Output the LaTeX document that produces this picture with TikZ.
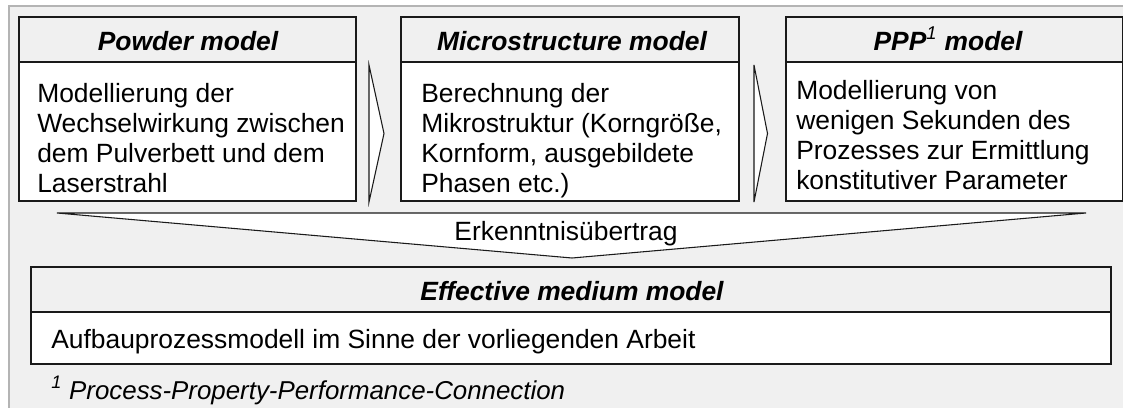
\documentclass[tikz,border=0pt]{standalone}
\usepackage{fontspec}
\setmainfont{Liberation Sans}
\definecolor{panelgray}{HTML}{F0F0F0}
\definecolor{framegray}{HTML}{B4B4B4}
\definecolor{inkline}{HTML}{1A1A1A}
\newcommand{\diagfont}{\fontsize{19.8pt}{22.5pt}\selectfont}
\begin{document}
\begin{tikzpicture}[
  x=0.75pt, y=-0.75pt,
  panel/.style={fill=panelgray, draw=framegray, line width=1.5pt},
  headbox/.style={fill=panelgray, draw=inkline, line width=1.1pt},
  bodybox/.style={fill=white, draw=inkline, line width=1.1pt},
  flowtip/.style={fill=white, draw=inkline, line width=0.8pt, line join=miter},
  txt/.style={inner sep=0pt, font=\diagfont},
  headtxt/.style={txt, anchor=base, font=\diagfont\bfseries\itshape},
  bodytxt/.style={txt, anchor=base west},
]
\useasboundingbox (0,0) rectangle (1123,407);

% background panel
\path[panel] (9,6) rectangle (1160,440);

% three model boxes: header band and body
\path[headbox] (19,17) rectangle (356,62);
\path[bodybox] (19,62) rectangle (356,201);
\path[headbox] (401,17) rectangle (739,62);
\path[bodybox] (401,62) rectangle (739,201);
\path[headbox] (786,17) rectangle (1122.5,62);
\path[bodybox] (786,62) rectangle (1122.5,201);

% flow arrows between the boxes
\path[flowtip] (369,65) -- (384,133.5) -- (369,202) -- cycle;
\path[flowtip] (754,65) -- (767.5,133.5) -- (754,202) -- cycle;

% knowledge transfer arrow
\path[flowtip] (57,213) -- (1086,213) -- (572,258) -- cycle;
\node[txt, anchor=base] (transfer) at (566,240) {Erkenntnisübertrag};

% effective medium model box
\path[headbox] (31,267) rectangle (1111,312);
\path[bodybox] (31,312) rectangle (1111,364);

% headers
\node[headtxt] (powderhead) at (188,50) {Powder model};
\node[headtxt] (microhead) at (572,50) {Microstructure model};
\node[headtxt] (ppphead) at (948,50) {PPP\textsuperscript{\mdseries 1} model};
\node[headtxt] (emmhead) at (572,300) {Effective medium model};

% descriptions
\node[bodytxt] (powderbody) at (37,102) {\parbox[t]{320pt}{Modellierung der\\Wechselwirkung zwischen\\dem Pulverbett und dem\\Laserstrahl}};
\node[bodytxt] (microbody) at (421,102) {\parbox[t]{320pt}{Berechnung der\\Mikrostruktur (Korngröße,\\Kornform, ausgebildete\\Phasen etc.)}};
\node[bodytxt] (pppbody) at (796,99.5) {\parbox[t]{320pt}{Modellierung von\\wenigen Sekunden des\\Prozesses zur Ermittlung\\konstitutiver Parameter}};
\node[bodytxt] (emmbody) at (51,348) {Aufbauprozessmodell im Sinne der vorliegenden Arbeit};

% footnote
\node[bodytxt, font=\fontsize{19.4pt}{22.5pt}\selectfont\itshape] (footnote) at (51,399) {\textsuperscript{1} Process-Property-Performance-Connection};
\end{tikzpicture}
\end{document}
